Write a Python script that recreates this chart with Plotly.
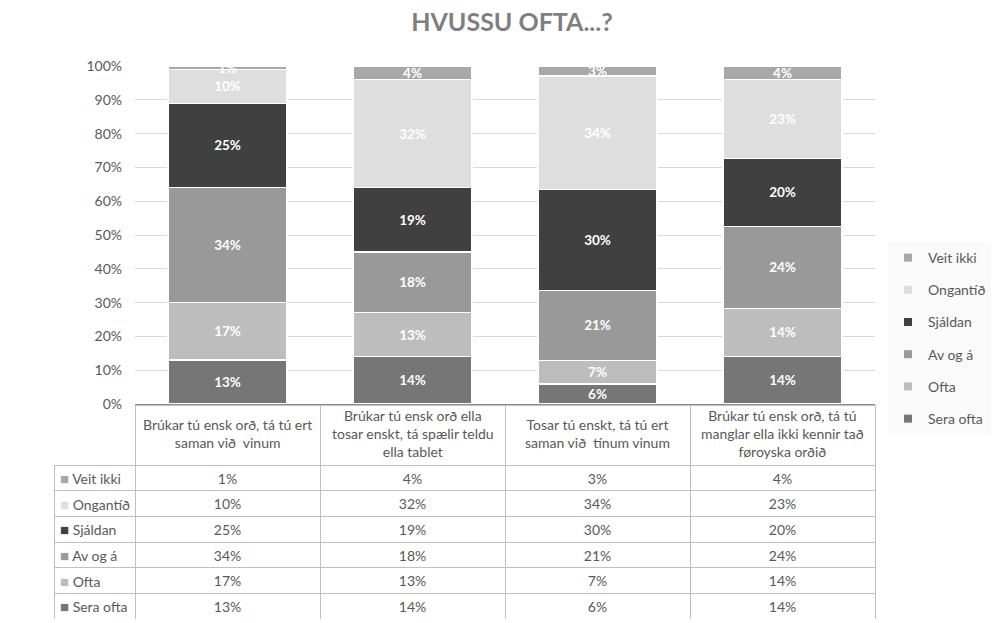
import plotly.graph_objects as go

# ---------------- data ----------------
categories = [
    "Brúkar tú ensk orð, tá tú ert saman við  vinum",
    "Brúkar tú ensk orð ella tosar enskt, tá spælir teldu ella tablet",
    "Tosar tú enskt, tá tú ert saman við  tínum vinum",
    "Brúkar tú ensk orð, tá tú manglar ella ikki kennir tað føroyska orðið",
]
category_labels = [
    "Brúkar tú ensk orð, tá tú ert<br>saman við  vinum",
    "Brúkar tú ensk orð ella<br>tosar enskt, tá spælir teldu<br>ella tablet",
    "Tosar tú enskt, tá tú ert<br>saman við  tínum vinum",
    "Brúkar tú ensk orð, tá tú<br>manglar ella ikki kennir tað<br>føroyska orðið",
]
# bottom -> top stacking order
series_names = ["Sera ofta", "Ofta", "Av og á", "Sjáldan", "Ongantíð", "Veit ikki"]
sera_ofta = [13, 14, 6, 14]
ofta = [17, 13, 7, 14]
av_og_a = [34, 18, 21, 24]
sjaldan = [25, 19, 30, 20]
ongantid = [10, 32, 34, 23]
veit_ikki = [1, 4, 3, 4]
series_values = [sera_ofta, ofta, av_og_a, sjaldan, ongantid, veit_ikki]
y_ticks = [0, 10, 20, 30, 40, 50, 60, 70, 80, 90, 100]
y_tick_labels = ["0%", "10%", "20%", "30%", "40%", "50%", "60%", "70%", "80%", "90%", "100%"]

# ---------------- style ----------------
colors = {
    "Sera ofta": "#767676",
    "Ofta": "#bdbdbd",
    "Av og á": "#999999",
    "Sjáldan": "#404040",
    "Ongantíð": "#dedede",
    "Veit ikki": "#a8a8a8",
}
FONT = "Lato"
TXT = "#595959"
W, H = 1002, 623
px_x = lambda p: p / W
px_y = lambda p: 1 - p / H

TABLE_TOP, HEADER_H, ROW_H = 405, 60, 25.7

fig = go.Figure()

for name, vals in zip(series_names, series_values):
    fig.add_trace(go.Bar(
        x=categories, y=vals, name=name,
        marker=dict(color=colors[name], line=dict(color="white", width=1.2)),
        text=[f"{v}%" for v in vals],
        textposition="inside", insidetextanchor="middle", textangle=0,
        textfont=dict(family=FONT, size=13.5, color="white", weight="bold"),
        showlegend=False, legendgroup=name, hoverinfo="skip",
    ))

# legend entries (small square markers), top of stack listed first
for name in reversed(series_names):
    fig.add_trace(go.Scatter(
        x=[None], y=[None], mode="markers", name=name, legendgroup=name,
        marker=dict(symbol="square", size=8, color=colors[name]),
        showlegend=True, hoverinfo="skip",
    ))

# ---------------- data table ----------------
row_order = list(reversed(series_names))  # Veit ikki first
row_vals = dict(zip(series_names, series_values))
data_cols = [[f"{row_vals[n][i]}%" for n in row_order] for i in range(len(categories))]

line_c = "#c0c0c0"
fig.add_trace(go.Table(
    domain=dict(x=[px_x(54), px_x(875)],
                y=[px_y(TABLE_TOP + HEADER_H + 6 * ROW_H), px_y(TABLE_TOP)]),
    columnwidth=[81, 185, 185, 185, 185],
    header=dict(
        values=["", "", "", "", ""],
        height=HEADER_H,
        fill_color=["rgba(0,0,0,0)", "white", "white", "white", "white"],
        line=dict(color=["rgba(0,0,0,0)", line_c, line_c, line_c, line_c], width=1),
    ),
    cells=dict(
        values=[[""] * len(row_order)] + data_cols,
        height=ROW_H,
        align=["left", "center", "center", "center", "center"],
        fill_color="white",
        line=dict(color=line_c, width=1),
        font=dict(family=FONT, size=14, color=TXT),
    ),
))

# row labels (legend key + name) in the first table column
for i, n in enumerate(row_order):
    fig.add_annotation(
        x=px_x(58), xref="paper", xanchor="left",
        y=px_y(TABLE_TOP + HEADER_H + ROW_H * (i + 0.5)), yref="paper", yanchor="middle",
        text=f"<span style='color:{colors[n]};font-size:15px'>■</span> {n}",
        showarrow=False, font=dict(family=FONT, size=14, color=TXT),
    )

# header labels centred in the header cells
for cat, lab in zip(categories, category_labels):
    fig.add_annotation(
        x=cat, xref="x", y=px_y(TABLE_TOP + HEADER_H / 2 - 2), yref="paper",
        text=lab, showarrow=False, align="center",
        xanchor="center", yanchor="middle",
        font=dict(family=FONT, size=14, color=TXT),
    )

fig.update_layout(
    width=W, height=H,
    margin=dict(l=0, r=0, t=0, b=0, pad=0),
    paper_bgcolor="white", plot_bgcolor="white",
    barmode="stack", barnorm="percent", bargap=0.357,
    uniformtext=dict(minsize=12, mode="show"),
    font=dict(family=FONT, color=TXT),
    title=dict(
        text="<b>HVUSSU OFTA...?</b>",
        x=px_x(512), xanchor="center", y=px_y(22), yanchor="middle",
        font=dict(family=FONT, size=25, color="#7f7f7f"),
    ),
    xaxis=dict(
        domain=[px_x(135), px_x(875)],
        showticklabels=False, showgrid=False, automargin=False,
        showline=True, linecolor="#8c8c8c", linewidth=2,
        fixedrange=True,
    ),
    yaxis=dict(
        domain=[px_y(404), px_y(66)], automargin=False,
        range=[0, 100], tickmode="array", tickvals=y_ticks, ticktext=y_tick_labels,
        showgrid=True, gridcolor="#d9d9d9", gridwidth=1,
        zeroline=False, showline=False, ticks="",
        ticklabelstandoff=12,
        tickfont=dict(family=FONT, size=14, color=TXT),
        fixedrange=True,
    ),
    legend=dict(
        x=px_x(888), xanchor="left", y=px_y(242), yanchor="top",
        bgcolor="#fafafa", borderwidth=0,
        traceorder="grouped", tracegroupgap=11,
        font=dict(family=FONT, size=14, color=TXT),
        itemwidth=30,
    ),
)

fig.write_html(
    "out.html",
    config={"displayModeBar": False},
    post_script="document.body.style.margin='0';document.body.style.overflow='hidden';",
)
